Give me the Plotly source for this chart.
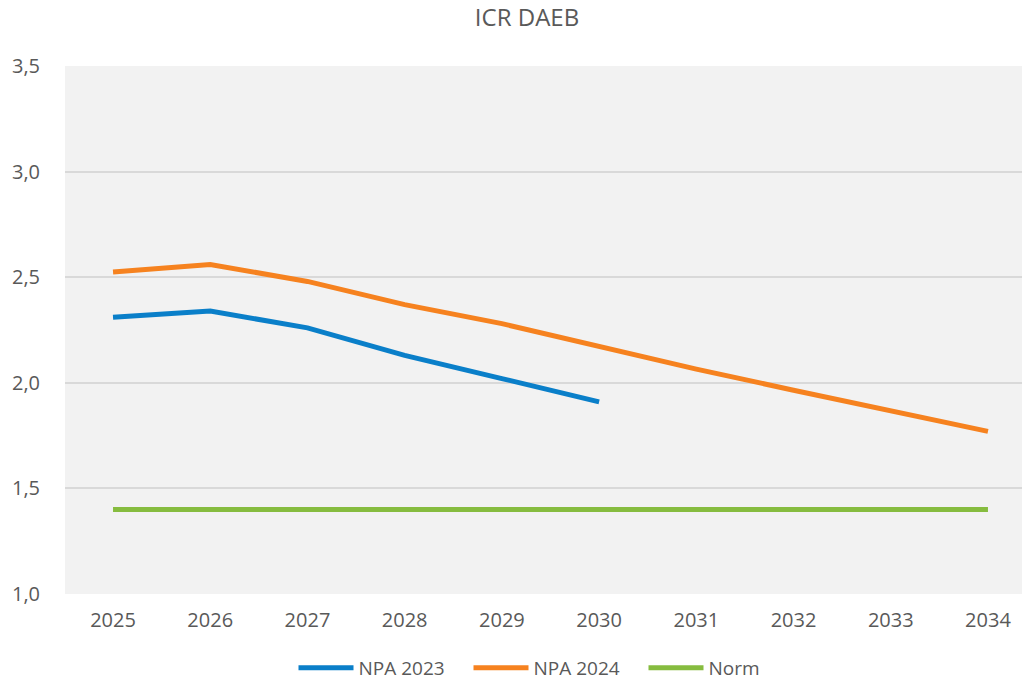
import plotly.graph_objects as go

years = ["2025", "2026", "2027", "2028", "2029", "2030", "2031", "2032", "2033", "2034"]
npa_2023 = [2.31, 2.34, 2.26, 2.13, 2.02, 1.91]
npa_2024 = [2.525, 2.56, 2.48, 2.37, 2.28, 2.17, 2.065, 1.965, 1.87, 1.77]
norm = [1.4] * 10

fig = go.Figure()
fig.add_trace(go.Scatter(x=years[:len(npa_2023)], y=npa_2023, mode="lines", name="NPA 2023",
                         line=dict(color="#0a7fc9", width=5)))
fig.add_trace(go.Scatter(x=years, y=npa_2024, mode="lines", name="NPA 2024",
                         line=dict(color="#f6821f", width=5)))
fig.add_trace(go.Scatter(x=years, y=norm, mode="lines", name="Norm",
                         line=dict(color="#86bc3f", width=5)))

font_family = "Open Sans, Noto Sans, sans-serif"
fig.update_layout(
    width=1024, height=683,
    paper_bgcolor="white", plot_bgcolor="#f2f2f2",
    margin=dict(l=65, r=2, t=66, b=89, autoexpand=False),
    separators=", ",
    title=dict(text="ICR DAEB", x=527 / 1024, xanchor="center", xref="container",
               y=1 - 18 / 683, yanchor="middle",
               font=dict(family=font_family, size=24, color="#595959")),
    font=dict(family=font_family, size=19, color="#595959"),
    showlegend=True,
    legend=dict(orientation="h", x=556 / 1024, xanchor="center", xref="container",
                y=1 - 668 / 683, yanchor="middle", yref="container",
                font=dict(size=19, color="#595959"), itemwidth=55, traceorder="normal",
                entrywidth=105, entrywidthmode="pixels"),
    xaxis=dict(type="category", range=[-0.494, 9.35], showgrid=False, zeroline=False,
               tickfont=dict(size=20, color="#595959"), ticks="", showline=False,
               ticklabelstandoff=12),
    yaxis=dict(range=[1.0, 3.5], dtick=0.5, tickformat=".1f", showgrid=True,
               gridcolor="#d9d9d9", gridwidth=2, zeroline=False, ticks="",
               tickfont=dict(size=20, color="#595959"), ticklabelstandoff=24),
)
fig.write_html("out.html", config={"displayModeBar": False},
               post_script="document.body.style.margin='0';document.body.style.overflow='hidden';")
